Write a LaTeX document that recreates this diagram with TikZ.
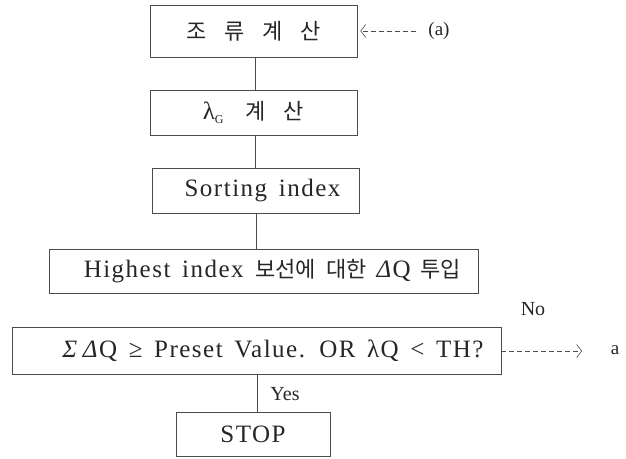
\documentclass[tikz,border=0pt]{standalone}
\usepackage{fontspec}
\setmainfont{Liberation Serif}
\newfontfamily\kr{Noto Sans CJK KR}
\newfontfamily\boxserif[LetterSpace=6,WordSpace=1.5]{Liberation Serif}
\newcommand\krs{\kr\fontsize{22}{22}\selectfont}
\usetikzlibrary{arrows.meta}
\begin{document}
\begin{tikzpicture}[x=1pt,y=-1pt,
  box/.style={draw=black!70, line width=0.7pt, inner sep=0pt,
    font=\boxserif\fontsize{25}{25}\selectfont, text=black!85},
  conn/.style={draw=black!70, line width=0.7pt},
  dconn/.style={draw=black!70, line width=0.7pt, dash pattern=on 5pt off 3pt,
    -{Straight Barb[length=5pt,width=13pt,line width=0.6pt]}},
  lbl/.style={inner sep=0pt, text=black!85, font=\fontsize{20}{20}\selectfont}]
\useasboundingbox (0,0) rectangle (626,458);

\node[box, minimum width=207pt, minimum height=52pt] (B1) at (253.5,31)
  {{\krs 조\hspace{18pt}류\hspace{18pt}계\hspace{18pt}산}};
\node[box, minimum width=207pt, minimum height=45pt] (B2) at (253.5,112.5)
  {λ\raisebox{-0.35ex}{\fontsize{12}{12}\selectfont G}\hspace{22pt}{\krs 계\hspace{18pt}산}\hspace{4pt}};
\node[box, minimum width=207pt, minimum height=45pt] (B3) at (255.5,190.5)
  {\hspace{14pt}Sorting index};
\node[box, minimum width=429pt, minimum height=44pt] (B4) at (263.5,271)
  {\hspace{18pt}Highest index {\krs 보선에\hspace{10pt}대한}\hspace{10pt}\textit{Δ}Q\hspace{10pt}{\krs 투입}};
\node[box, minimum width=489pt, minimum height=47pt] (B5) at (256.5,350.5)
  {\hspace{33pt}\textit{Σ}\,\textit{Δ}Q ≥ Preset Value. OR λQ < TH?};
\node[box, minimum width=154pt, minimum height=44pt] (B6) at (253,434)
  {STOP};

\coordinate (x1) at (255,0);
\coordinate (x3) at (256,0);
\coordinate (x5) at (257,0);
\draw[conn] (B1.south -| x1) -- (B2.north -| x1);
\draw[conn] (B2.south -| x1) -- (B3.north -| x1);
\draw[conn] (B3.south -| x3) -- (B4.north -| x3);
\draw[conn] (B5.south -| x5) -- (B6.north -| x5);

\node[lbl, font=\fontsize{19}{19}\selectfont] (La) at (439,31) {(a)};
\draw[dconn, shorten <=12pt] (La.west) -- ([xshift=3pt]B1.east);

\coordinate (tipNo) at (582,351);
\draw[dconn] (B5.east |- tipNo) -- (tipNo);
\node[lbl, font=\fontsize{19}{19}\selectfont] (La2) at (615,350) {a};
\node[lbl] (No) at (533,309) {No};
\node[lbl] (Yes) at (285,394) {Yes};
\end{tikzpicture}
\end{document}
